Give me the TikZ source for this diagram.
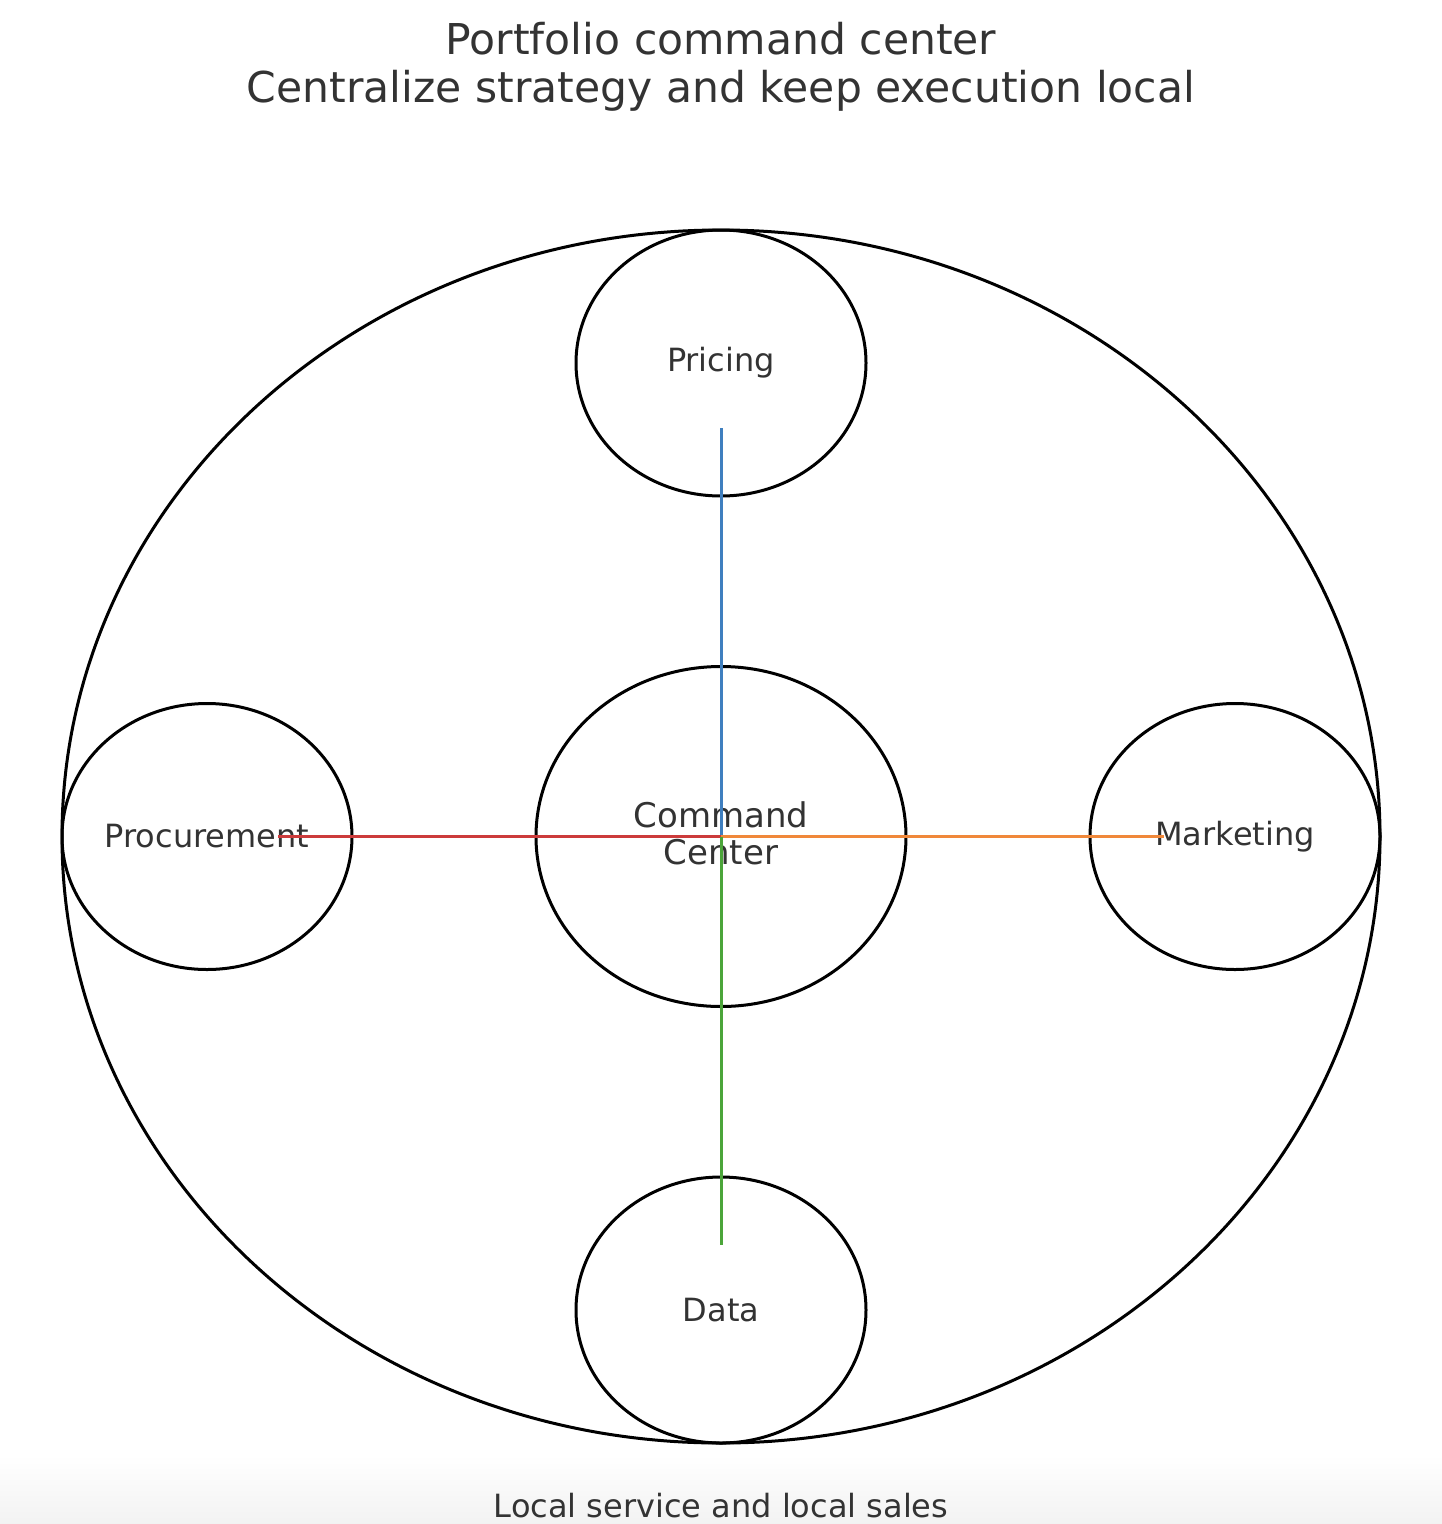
\documentclass[tikz,border=0pt]{standalone}
\usepackage{fontspec}
\setmainfont{DejaVu Sans}
\usetikzlibrary{shapes.geometric,calc}
\definecolor{txt}{HTML}{333333}
\definecolor{cblue}{HTML}{3F7FBF}
\definecolor{cred}{HTML}{CC3B3B}
\definecolor{corange}{HTML}{F0883A}
\definecolor{cgreen}{HTML}{4BA53A}
\tikzset{
  ring/.style={draw=black, line width=3pt, ellipse, inner sep=0pt},
  sat/.style={ring, minimum width=290pt, minimum height=266pt, text=txt, font=\fontsize{32}{38}\selectfont},
  hub/.style={ring, minimum width=370pt, minimum height=340pt, text=txt, align=center, font=\fontsize{34}{37}\selectfont},
  spoke/.style={line width=3pt},
  lbl/.style={text=txt, inner sep=0pt}
}
\begin{document}
\begin{tikzpicture}[x=1pt,y=-1pt]
\useasboundingbox (0,0) rectangle (1442,1524);
\shade[top color=white, bottom color=black!5] (0,1455) rectangle (1442,1524);
\node[lbl, font=\fontsize{42.5}{48}\selectfont, align=center] (title) at (721,67) {Portfolio command center\\Centralize strategy and keep execution local};
\node[ring, minimum width=1318pt, minimum height=1213pt] (outer) at (721,836.5) {};
\node[sat] (pricing) at (721,363) {Pricing};
\node[sat] (data) at (721,1310) {Data};
\node[sat] (procurement) at (207,836.5) {Procurement};
\node[sat] (marketing) at (1235,836.5) {Marketing};
\node[hub] (hub) at (721,836.5) {};
\node[lbl, font=\fontsize{34}{37}\selectfont, align=center] (hubtext) at (721,833) {Command\\Center};
\node[lbl, font=\fontsize{32}{38}\selectfont] (foot) at (721,1506) {Local service and local sales};
\coordinate (pe) at ($(pricing.center)+(0,65)$);
\coordinate (de) at ($(data.center)+(0,-65)$);
\coordinate (pre) at ($(procurement.center)+(71,0)$);
\coordinate (me) at ($(marketing.center)+(-71,0)$);
\draw[spoke, cblue] (pe) -- (hub.center);
\draw[spoke, cred] (pre) -- (hub.center);
\draw[spoke, corange] (hub.center) -- (me);
\draw[spoke, cgreen] (hub.center) -- (de);
\end{tikzpicture}
\end{document}
